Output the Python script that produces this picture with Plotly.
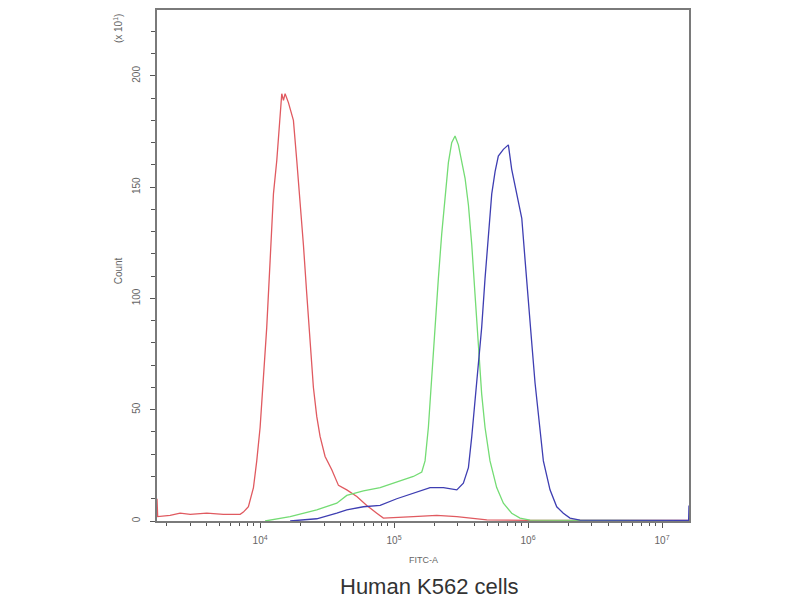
import numpy as np
import plotly.graph_objects as go

# FITC-A intensity (x) and event count in units of 10^1 (y)
red_x = [1700, 1720, 2130, 2530, 3010, 4000, 5320, 7100, 7500, 8180, 8920, 9440,
         10000, 10590, 11210, 11880, 12580, 13320, 14100, 14510, 14940, 15370,
         16270, 17730, 18780, 19890, 21060, 22300, 23610, 25000, 26470, 28030,
         30550, 34280, 38460, 44360, 52720, 62550, 74300, 83200, 139300, 208300,
         294000, 369000, 492000, 1000000, 15900000]
red_y = [10, 2, 2.5, 3.5, 3, 3.5, 3, 3, 4, 6.4, 15, 27, 42, 65, 87, 117, 147, 162,
         181, 192, 189, 192, 188, 180, 162, 144, 124, 102, 80, 60, 47, 38, 29, 23,
         16, 14, 11, 7, 3.5, 1.3, 2, 2.5, 2, 1.3, 0.5, 0.3, 0.3]

green_x = [10900, 16760, 26470, 37360, 44360, 59040, 78700, 104700, 139300, 161000,
           170300, 180300, 190900, 202200, 214100, 226800, 240300, 254300, 269300,
           285100, 302000, 319800, 338800, 358900, 380200, 401800, 425600, 450800,
           477500, 520000, 583400, 654400, 755100, 871000, 1035000, 15900000]
green_y = [0, 2, 5, 8, 11.5, 13.5, 15, 17.5, 20, 22, 27, 42, 65, 87, 109, 129, 147,
           161, 170, 173, 169, 161, 154, 142, 124, 102, 80, 57, 42, 27, 15, 8, 3.5,
           1.3, 0.4, 0.2]

blue_x = [16760, 26470, 37360, 44360, 59040, 78700, 104700, 139300, 185700, 233600,
          294000, 329000, 358900, 380200, 401800, 425600, 450800, 477500, 505800,
          535800, 567500, 600000, 654400, 713000, 755100, 823600, 897900, 950900,
          1005000, 1066000, 1128000, 1194000, 1301000, 1459000, 1637000, 1834000,
          2056000, 2442000, 15800000, 15900000]
blue_y = [0, 1, 3.5, 5, 6.4, 7, 10, 12.5, 15, 15, 14, 17, 24, 38, 53, 71, 87, 109,
          129, 147, 157, 164, 167, 169, 158, 147, 136, 117, 97, 80, 62, 47, 27, 14,
          6.4, 3.5, 1.3, 0.4, 0.3, 7]

x_major = [1e4, 1e5, 1e6, 1e7]
x_major_text = ["10<sup>4</sup>", "10<sup>5</sup>", "10<sup>6</sup>", "10<sup>7</sup>"]
x_minor = [m * 10 ** e for e in range(3, 8) for m in range(2, 10)]

tickfont = dict(family="Liberation Sans", size=10, color="#666")

fig = go.Figure()
for xs, ys, col in [(red_x, red_y, "#e05a60"),
                    (green_x, green_y, "#74dc74"),
                    (blue_x, blue_y, "#3e3eb2")]:
    fig.add_trace(go.Scatter(x=xs, y=ys, mode="lines",
                             line=dict(color=col, width=1.3), showlegend=False))

fig.update_xaxes(type="log", range=[np.log10(1700), np.log10(15900000)],
                 showgrid=False, zeroline=False,
                 showline=True, mirror=True, linecolor="#7a7a7a", linewidth=1.5,
                 ticks="outside", ticklen=5, tickcolor="#555",
                 tickvals=x_major, ticktext=x_major_text, tickfont=tickfont,
                 ticklabelstandoff=4,
                 minor=dict(tickvals=x_minor, ticks="outside", ticklen=3, tickcolor="#555"))
fig.update_yaxes(range=[0, 229.6], showgrid=False, zeroline=False,
                 showline=True, mirror=True, linecolor="#7a7a7a", linewidth=1.5,
                 ticks="outside", ticklen=5, tickcolor="#555",
                 tickvals=[0, 50, 100, 150, 200], tickangle=-90, tickfont=tickfont,
                 ticklabelstandoff=6,
                 minor=dict(dtick=10, ticks="outside", ticklen=4, tickcolor="#555"))

# the page body adds ~8px, so the figure is drawn at 792x592
fig.update_layout(
    width=792, height=592,
    paper_bgcolor="white", plot_bgcolor="white",
    margin=dict(l=149, r=111, t=0, b=79),
    annotations=[
        dict(text="Count", x=-0.073, y=0.489, xref="paper", yref="paper",
             xanchor="center", yanchor="middle", textangle=-90, showarrow=False,
             font=tickfont),
        dict(text="(x 10<sup>1</sup>)", x=-0.073, y=0.963, xref="paper", yref="paper",
             xanchor="center", yanchor="middle", textangle=-90, showarrow=False,
             font=tickfont),
        dict(text="FITC-A", x=0.5, y=-0.076, xref="paper", yref="paper",
             xanchor="center", yanchor="middle", showarrow=False,
             font=dict(family="Liberation Sans", size=9, color="#666")),
        dict(text="Human K562 cells", x=0.513, y=-0.129, xref="paper", yref="paper",
             xanchor="center", yanchor="middle", showarrow=False,
             font=dict(family="Liberation Sans", size=22, color="#333")),
    ],
)

fig.write_html("out.html")
